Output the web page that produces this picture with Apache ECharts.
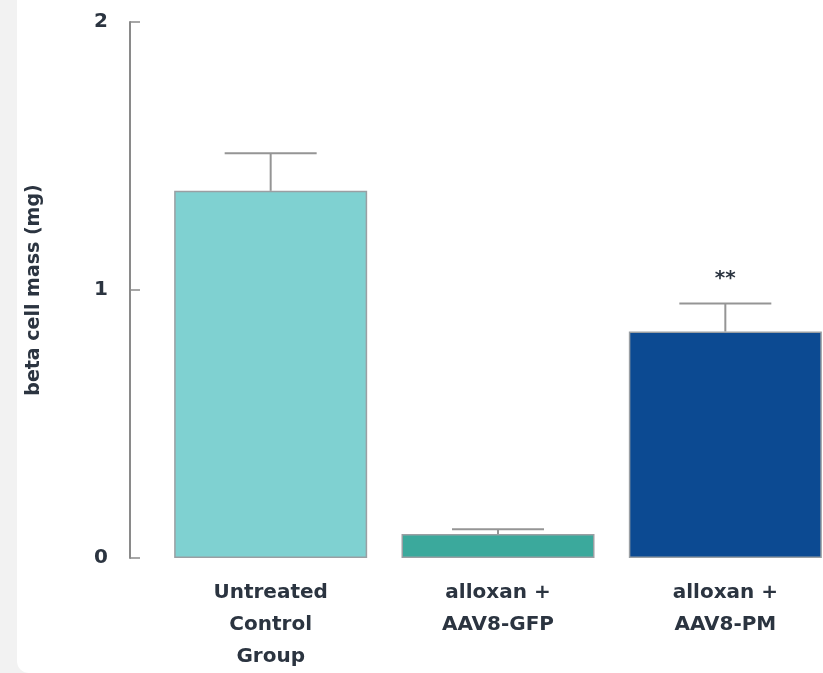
<!DOCTYPE html>
<html>
<head>
<meta charset="utf-8">
<script src="https://cdn.jsdelivr.net/npm/echarts@6/dist/echarts.min.js"></script>
<style>
  html, body { margin: 0; padding: 0; width: 823px; height: 673px; overflow: hidden; background: #fff; }
  #frame {
    position: relative; width: 823px; height: 673px;
    overflow: hidden; background: #f2f2f2;
  }
  #card {
    position: absolute; left: 17px; top: 0; right: 0; bottom: 0;
    background: #fff; border-bottom-left-radius: 12px; overflow: hidden;
  }
  #chart { position: absolute; left: 0; top: 0; width: 822px; height: 673px; }
</style>
</head>
<body>
<div id="frame"><div id="card"><div id="chart"></div></div></div>
<script>
// values
const categories = ["Untreated\nControl\nGroup", "alloxan +\nAAV8-GFP", "alloxan +\nAAV8-PM"];
const massValues = [1.37, 0.09, 0.845];
const errValues = [0.14, 0.017, 0.105];
const sigLabels = ["", "", "**"];
const barColors = ["#7fd1d1", "#3ba99c", "#0c4a92"];

const textColor = "#2b3440";
const font = "DejaVu Sans";
const chart = echarts.init(document.getElementById("chart"));

chart.setOption({
  animation: false,
  grid: { left: 140, right: 0, top: 22, bottom: 111 },
  xAxis: {
    type: "category",
    data: categories,
    axisLine: { show: false },
    axisTick: { show: false },
    axisLabel: {
      interval: 0,
      color: textColor,
      fontFamily: font,
      fontWeight: "bold",
      fontSize: 20,
      lineHeight: 32,
      margin: 19,
    },
  },
  yAxis: {
    type: "value",
    min: 0,
    max: 2,
    interval: 1,
    offset: 27,
    name: "beta cell mass (mg)",
    nameLocation: "middle",
    nameGap: 86,
    nameTextStyle: {
      color: textColor,
      fontFamily: font,
      fontWeight: "bold",
      fontSize: 19,
    },
    axisLine: { show: true, lineStyle: { color: "#8a8a8a", width: 2 } },
    axisTick: { show: true, inside: true, length: 10, lineStyle: { color: "#8a8a8a", width: 1.5 } },
    splitLine: { show: false },
    axisLabel: {
      color: textColor,
      fontFamily: font,
      fontWeight: "bold",
      fontSize: 20,
      margin: 22,
    },
  },
  series: [
    {
      type: "bar",
      barWidth: 193,
      data: massValues.map((v, i) => ({
        value: v,
        itemStyle: { color: barColors[i], borderColor: "#9a9fa3", borderWidth: 1.5 },
      })),
      z: 2,
    },
    {
      type: "custom",
      z: 3,
      data: massValues.map((v, i) => [i, v, v + errValues[i]]),
      renderItem(params, api) {
        const base = api.coord([api.value(0), api.value(1)]);
        const top = api.coord([api.value(0), api.value(2)]);
        const half = 46;
        const style = { stroke: "#959595", lineWidth: 2 };
        const children = [
          { type: "line", shape: { x1: base[0], y1: base[1], x2: top[0], y2: top[1] }, style },
          { type: "line", shape: { x1: top[0] - half, y1: top[1], x2: top[0] + half, y2: top[1] }, style },
        ];
        const sig = sigLabels[params.dataIndex];
        if (sig) {
          children.push({
            type: "text",
            style: {
              text: sig, x: top[0], y: top[1] - 25,
              align: "center", verticalAlign: "middle",
              fill: textColor, fontSize: 20, fontWeight: "bold", fontFamily: font,
            },
          });
        }
        return { type: "group", children };
      },
    },
  ],
});
</script>
</body>
</html>
